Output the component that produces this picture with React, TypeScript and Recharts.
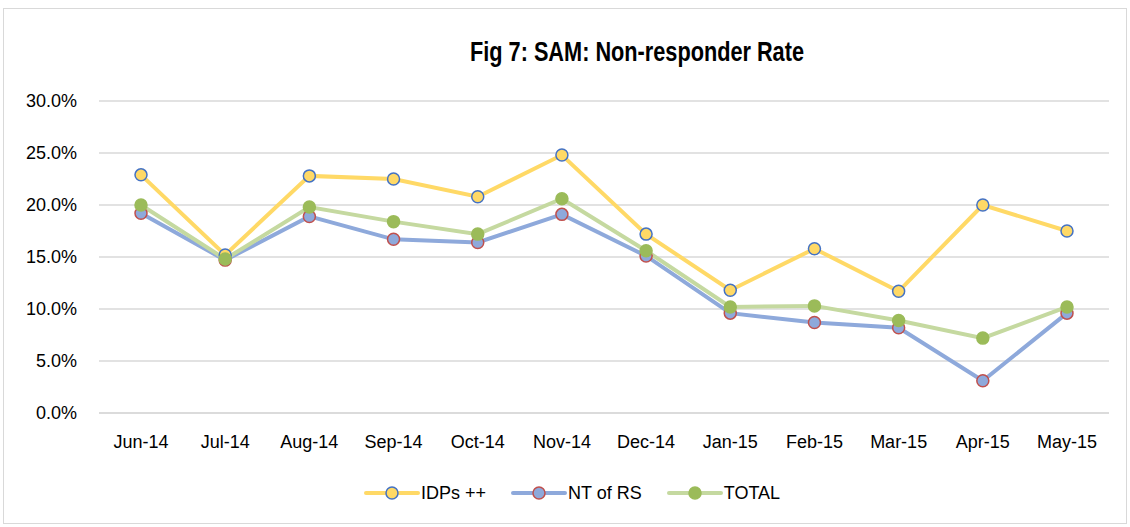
import React from 'react'
import { LineChart, Line, XAxis, YAxis, CartesianGrid, Legend } from 'recharts'

const months = ['Jun-14', 'Jul-14', 'Aug-14', 'Sep-14', 'Oct-14', 'Nov-14', 'Dec-14', 'Jan-15', 'Feb-15', 'Mar-15', 'Apr-15', 'May-15']
const idps = [22.9, 15.2, 22.8, 22.5, 20.8, 24.8, 17.2, 11.8, 15.8, 11.7, 20.0, 17.5]
const ntOfRs = [19.2, 14.7, 18.9, 16.7, 16.4, 19.1, 15.1, 9.6, 8.7, 8.2, 3.1, 9.6]
const total = [20.0, 14.8, 19.8, 18.4, 17.2, 20.6, 15.6, 10.2, 10.3, 8.9, 7.2, 10.2]
const yTicks = [0, 5, 10, 15, 20, 25, 30]

const data = months.map((m, i) => ({ month: m, idps: idps[i], nt: ntOfRs[i], total: total[i] }))

const FONT = '"Liberation Sans", Arial, sans-serif'

const series = [
  { key: 'idps', name: 'IDPs ++', line: '#FFD966', fill: '#FFD966', stroke: '#4472C4' },
  { key: 'nt', name: 'NT of RS', line: '#8EA9DB', fill: '#8EA9DB', stroke: '#C0504D' },
  { key: 'total', name: 'TOTAL', line: '#C5D9A0', fill: '#9BBB59', stroke: '#9BBB59' },
]

function LegendBox() {
  return (
    <div style={{ display: 'flex', justifyContent: 'flex-start', height: 24, alignItems: 'center', fontFamily: FONT, fontSize: 18, color: '#000', paddingLeft: 364 }}>
      {series.map(s => (
        <div key={s.key} style={{ display: 'flex', alignItems: 'center', marginRight: 25 }}>
          <svg width={56} height={16}>
            <line x1={2} y1={8} x2={54} y2={8} stroke={s.line} strokeWidth={4} strokeLinecap="round" />
            <circle cx={28} cy={8} r={6} fill={s.fill} stroke={s.stroke} strokeWidth={1.5} />
          </svg>
          <span style={{ marginLeft: 1 }}>{s.name}</span>
        </div>
      ))}
    </div>
  )
}

export default function App() {
  return (
    <div style={{ position: 'relative', width: 1130, height: 527, background: '#fff' }}>
      <style>{'body{margin:0}'}</style>
      <div style={{ position: 'absolute', left: 3, top: 8, width: 1124, height: 516, border: '1px solid #d9d9d9', boxSizing: 'border-box' }} />
      <svg style={{ position: 'absolute', left: 0, top: 0 }} width={1130} height={80}>
        <text x={470} y={61} fontFamily={FONT} fontWeight="bold" fontSize={28} textLength={334} lengthAdjust="spacingAndGlyphs" fill="#000">
          Fig 7: SAM: Non-responder Rate
        </text>
      </svg>
      <div style={{ position: 'absolute', left: 0, top: 0 }}>
        <LineChart width={1130} height={527} data={data} margin={{ top: 101, right: 21, left: 0, bottom: 22 }}>
          <CartesianGrid vertical={false} stroke="#d9d9d9" strokeWidth={1.5} />
          <XAxis
            dataKey="month"
            height={68}
            padding={{ left: 42, right: 42 }}
            tickLine={false}
            tickSize={0}
            tickMargin={22}
            axisLine={{ stroke: '#d9d9d9', strokeWidth: 1.5 }}
            tick={{ fill: '#000', fontSize: 18, fontFamily: FONT }}
            interval={0}
          />
          <YAxis
            width={99}
            domain={[0, 30]}
            ticks={yTicks}
            tickFormatter={v => `${v.toFixed(1)}%`}
            axisLine={false}
            tickLine={false}
            tickSize={0}
            tickMargin={22}
            tick={{ fill: '#000', fontSize: 18, fontFamily: FONT }}
          />
          <Legend verticalAlign="bottom" content={() => <LegendBox />} />
          {series.map(s => (
            <Line
              key={s.key}
              dataKey={s.key}
              name={s.name}
              type="linear"
              stroke={s.line}
              strokeWidth={4}
              dot={{ r: 6, fill: s.fill, stroke: s.stroke, strokeWidth: 1.5 }}
              activeDot={false}
              isAnimationActive={false}
            />
          ))}
        </LineChart>
      </div>
    </div>
  )
}
